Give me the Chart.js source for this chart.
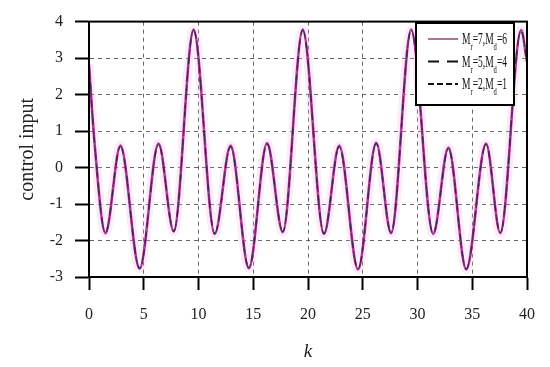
<!DOCTYPE html>
<html>
<head>
<meta charset="utf-8">
<script src="https://cdn.jsdelivr.net/npm/chart.js@4.4.1/dist/chart.umd.min.js"></script>
<style>
  html, body { margin: 0; padding: 0; background: #fff; }
  #wrap { position: relative; width: 550px; height: 367px; }
</style>
</head>
<body>
<div id="wrap"><canvas id="ctrlChart" width="550" height="367"></canvas></div>
<script>
// --- data (extrema + a few slope points) ---
const kPoints = [0, 0.5, 1.5, 2.87, 4.62, 6.35, 7.74, 9.55, 11.48, 12.93, 14.6, 16.26, 17.7, 19.52,
                 21.46, 22.85, 24.57, 26.23, 27.59, 29.42, 31.43, 32.82, 34.45, 36.26, 37.56, 39.46, 40];
const uMr7 = [2.82, 0.7, -1.8, 0.6, -2.77, 0.66, -1.75, 3.78, -1.82, 0.6, -2.76, 0.67, -1.77, 3.78,
              -1.82, 0.6, -2.79, 0.68, -1.8, 3.78, -1.82, 0.55, -2.79, 0.66, -1.8, 3.77, 2.9];
const uMr5 = [2.82, 0.7, -1.79, 0.58, -2.76, 0.64, -1.75, 3.76, -1.81, 0.57, -2.75, 0.65, -1.76, 3.76,
              -1.81, 0.57, -2.78, 0.66, -1.79, 3.76, -1.81, 0.52, -2.78, 0.64, -1.79, 3.75, 2.9];
const uMr2 = [2.82, 0.7, -1.79, 0.58, -2.76, 0.63, -1.75, 3.76, -1.81, 0.57, -2.75, 0.64, -1.76, 3.76,
              -1.81, 0.57, -2.78, 0.65, -1.79, 3.76, -1.81, 0.52, -2.78, 0.63, -1.79, 3.75, 2.9];
const xTicks = [0, 5, 10, 15, 20, 25, 30, 35, 40];
const yTicks = [-3, -2, -1, 0, 1, 2, 3, 4];

const legendItems = [
    { r: '7', d: '6', color: '#b5719a', dash: [] },
    { r: '5', d: '4', color: '#111', dash: [11, 8] },
    { r: '2', d: '1', color: '#111', dash: [6, 3] }
];

const serif = "'Liberation Serif', 'Times New Roman', serif";

function toPoints(ys) {
    return kPoints.map((k, i) => ({ x: k, y: ys[i] }));
}

// frame + legend box drawn on top of the plot
const framePlugin = {
    id: 'frame',
    afterDraw(chart) {
        const ctx = chart.ctx;
        const a = chart.chartArea;
        ctx.save();
        ctx.strokeStyle = '#000';
        ctx.lineWidth = 2;
        ctx.strokeRect(a.left, a.top, a.right - a.left, a.bottom - a.top);

        // legend
        const bx = 416, by = 23, bw = 98, bh = 82;
        ctx.fillStyle = '#fff';
        ctx.fillRect(bx, by, bw, bh);
        ctx.strokeRect(bx, by, bw, bh);

        legendItems.forEach((item, i) => {
            const y = 39 + i * 22.5;
            ctx.beginPath();
            ctx.setLineDash(item.dash);
            ctx.strokeStyle = item.color;
            ctx.lineWidth = 2;
            ctx.moveTo(428, y);
            ctx.lineTo(458, y);
            ctx.stroke();
            ctx.setLineDash([]);

            // M_r=7,M_d=6 with subscripts
            const parts = [['M', 0], ['r', 1], ['=' + item.r + ',M', 0], ['d', 1], ['=' + item.d, 0]];
            let total = 0;
            parts.forEach(p => {
                ctx.font = (p[1] ? '11px ' : '16px ') + serif;
                total += ctx.measureText(p[0]).width;
            });
            const sx = 45 / total;
            ctx.save();
            ctx.translate(462, y + 5);
            ctx.scale(sx, 1);
            ctx.fillStyle = '#111';
            let x = 0;
            parts.forEach(p => {
                ctx.font = (p[1] ? '11px ' : '16px ') + serif;
                ctx.fillText(p[0], x, p[1] ? 6 : 0);
                x += ctx.measureText(p[0]).width;
            });
            ctx.restore();
        });
        ctx.restore();
    }
};

new Chart(document.getElementById('ctrlChart').getContext('2d'), {
    type: 'line',
    data: {
        datasets: [
            {
                label: 'Mr=2,Md=1',
                data: toPoints(uMr2),
                borderColor: 'rgba(45, 30, 75, 0.6)',
                borderWidth: 1.5,
                borderDash: [6, 3],
                pointRadius: 0,
                order: 1,
                cubicInterpolationMode: 'monotone'
            },
            {
                label: 'Mr=5,Md=4',
                data: toPoints(uMr5),
                borderColor: 'rgba(45, 30, 75, 0.6)',
                borderWidth: 1.5,
                borderDash: [10, 7],
                pointRadius: 0,
                order: 2,
                cubicInterpolationMode: 'monotone'
            },
            {
                label: 'Mr=7,Md=6',
                data: toPoints(uMr7),
                borderColor: '#b8409a',
                borderWidth: 2.6,
                pointRadius: 0,
                order: 3,
                cubicInterpolationMode: 'monotone'
            },
            {
                data: toPoints(uMr7),
                borderColor: 'rgba(245, 175, 228, 0.25)',
                borderWidth: 9,
                pointRadius: 0,
                order: 4,
                cubicInterpolationMode: 'monotone'
            }
        ]
    },
    options: {
        responsive: false,
        animation: false,
        layout: { padding: { top: 14, right: 20, left: 0, bottom: 0 } },
        plugins: {
            legend: { display: false },
            tooltip: { enabled: false }
        },
        scales: {
            x: {
                type: 'linear',
                min: 0,
                max: 40,
                afterBuildTicks: axis => { axis.ticks = xTicks.map(v => ({ value: v })); },
                afterFit: axis => { axis.height = 90; },
                ticks: {
                    color: '#222',
                    padding: 15,
                    maxRotation: 0,
                    font: { family: serif, size: 16 }
                },
                grid: {
                    color: '#666',
                    lineWidth: 1,
                    tickLength: 13,
                    tickColor: '#000',
                    tickWidth: 2
                },
                border: { color: '#000', width: 2, dash: [4, 4] },
                title: {
                    display: true,
                    text: 'k',
                    color: '#222',
                    padding: { top: 8 },
                    font: { family: serif, size: 19, style: 'italic' }
                }
            },
            y: {
                min: -3,
                max: 4,
                afterBuildTicks: axis => { axis.ticks = yTicks.map(v => ({ value: v })); },
                afterFit: axis => { axis.width = 89; },
                ticks: {
                    color: '#222',
                    padding: 12,
                    font: { family: serif, size: 16 }
                },
                grid: {
                    color: '#666',
                    lineWidth: 1,
                    tickLength: 14,
                    tickColor: '#000',
                    tickWidth: 2
                },
                border: { color: '#000', width: 2, dash: [4, 4] },
                title: {
                    display: true,
                    text: 'control input',
                    color: '#222',
                    padding: { top: 16, bottom: 4 },
                    font: { family: serif, size: 20 }
                }
            }
        }
    },
    plugins: [framePlugin]
});
</script>
</body>
</html>
